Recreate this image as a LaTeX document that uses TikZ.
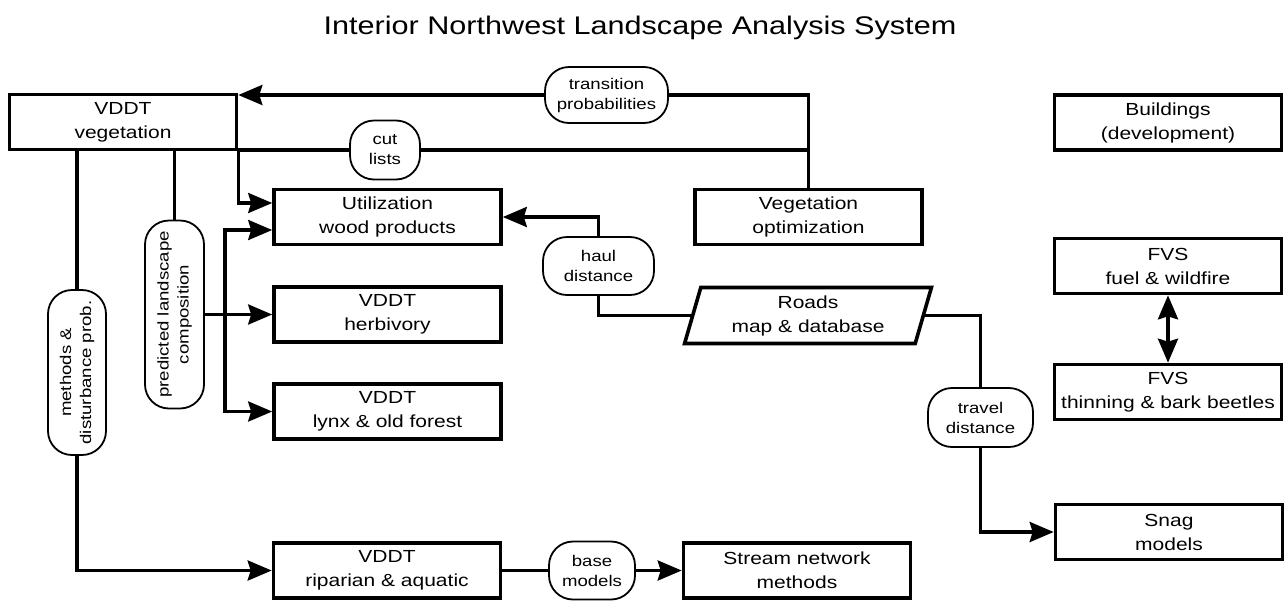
\documentclass[tikz,border=0pt]{standalone}
\usepackage{fontspec}
\setmainfont{Liberation Sans}[FakeStretch=1.2]
\usetikzlibrary{arrows.meta, shapes.geometric}

\begin{document}
\begin{tikzpicture}[x=1pt, y=-1pt, >={Stealth[length=24pt, width=20pt, inset=3pt]}]
    \useasboundingbox (0, 0) rectangle (1285, 600);

    \node (Title) at (640, 28) {\fontsize{25.5}{30}\selectfont Interior Northwest Landscape Analysis System};

    \begin{scope}[every node/.style={draw=black, line width=3.6pt, minimum width=227pt, minimum height=55pt, inner sep=0pt, align=center, font=\fontsize{17.5}{24}\selectfont}]
        \node (VDDT_veg) at (123, 122) {VDDT\\vegetation};

        \node (Util) at (387.5, 217) {Utilization\\wood products};
        \node (Herb) at (387.5, 314.5) {VDDT\\herbivory};
        \node (Lynx) at (387.5, 411.5) {VDDT\\lynx \& old forest};
        \node (Ripar) at (387, 570.5) {VDDT\\riparian \& aquatic};

        \node (VegOpt) at (808.5, 217) {Vegetation\\optimization};
        \node[trapezium, trapezium left angle=74, trapezium right angle=106, trapezium stretches=true, minimum width=247pt, minimum height=56pt] (Roads) at (808, 315.5) {Roads\\map \& database};
        \node (Stream) at (797, 570.5) {Stream network\\methods};

        \node (Build) at (1168, 122.5) {Buildings\\(development)};
        \node (FVS_fuel) at (1168, 266) {FVS\\fuel \& wildfire};
        \node (FVS_thin) at (1168, 392) {FVS\\thinning \& bark beetles};
        \node (Snag) at (1169, 532) {Snag\\models};
    \end{scope}

    \begin{scope}[every node/.style={draw=black, line width=1.8pt, fill=white, rounded corners=24pt, inner sep=0pt, align=center, font=\fontsize{15.5}{20}\selectfont}]
        \node[minimum width=123pt, minimum height=56pt] (Trans) at (606.5, 95) {transition\\probabilities};
        \node[minimum width=70pt, minimum height=59pt] (Cut) at (385, 150) {cut\\lists};
        \node[minimum width=111pt, minimum height=58pt] (Haul) at (598.5, 266) {haul\\distance};
        \node[minimum width=105pt, minimum height=59pt] (Travel) at (980.5, 417.5) {travel\\distance};
        \node[minimum width=86pt, minimum height=58pt] (Base) at (592, 570.5) {base\\models};

        \node[rotate=90, minimum width=165pt, minimum height=58pt] (Meth) at (77, 372.5) {methods \&\\disturbance prob.};
        \node[rotate=90, minimum width=188pt, minimum height=59pt] (Pred) at (174.5, 314.5) {predicted landscape\\composition};
    \end{scope}

    \coordinate (Bus_T) at (225, 230);
    \coordinate (Bus_B) at (225, 411.5);

    \begin{scope}[every edge/.style={draw=black, line width=3.6pt, line cap=rect},
                  vh/.style={to path={|- (\tikztotarget)}},
                  hv/.style={to path={-| (\tikztotarget)}}]
        \path (VegOpt.north) edge[vh] (Trans.east);
        \path (Trans.west) edge[->] (Trans.west -| VDDT_veg.east);
        \path (Cut.east) edge (Cut.east -| VegOpt.north);
        \path (Cut.west) edge (Cut.west -| VDDT_veg.east);
        \path (Cut.west -| VDDT_veg.east) edge[->, vh] ([yshift=14pt]Util.west);

        \path (VDDT_veg.south -| Meth.east) edge (Meth.east);
        \path (Meth.west) edge[->, vh] (Ripar.west);

        \path (VDDT_veg.south -| Pred.east) edge (Pred.east);
        \path (Pred.south) edge[->] (Herb.west);
        \path (Bus_T -| Util.west) edge[<-, hv] (Bus_B);
        \path (Bus_B) edge[->] (Lynx.west);

        \path (Haul.north) edge[->, vh] (Util.east);
        \path (Haul.south) edge[vh] (Roads.west);
        \path (Roads.east) edge[hv] (Travel.north);
        \path (Travel.south) edge[->, vh] (Snag.west);

        \path (Ripar.east) edge (Base.west);
        \path (Base.east) edge[->] (Stream.west);

        \path (FVS_fuel.south) edge[<->] (FVS_thin.north);
    \end{scope}
\end{tikzpicture}
\end{document}
